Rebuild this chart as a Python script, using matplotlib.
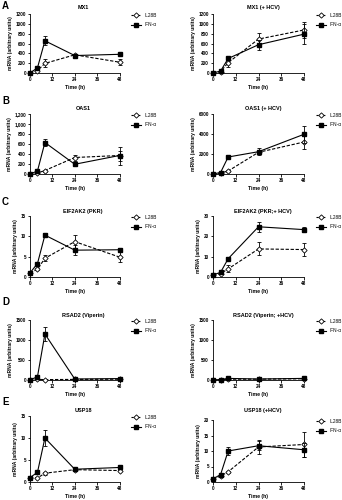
import matplotlib
matplotlib.use("Agg")
import matplotlib.pyplot as plt
from matplotlib.lines import Line2D
from matplotlib.ticker import FuncFormatter

plt.rcParams['font.family'] = ['Liberation Sans', 'DejaVu Sans']

time = [0, 4, 8, 24, 48]
x_ticks = [0, 12, 24, 36, 48]
series_labels = ["IL28B", "IFN-\u03b1"]

titles = ["MX1", "MX1 (+ HCV)", "OAS1", "OAS1 (+ HCV)",
          "EIF2AK2 (PKR)", "EIF2AK2 (PKR;+ HCV)",
          "RSAD2 (Viperin)", "RSAD2 (Viperin; +HCV)",
          "USP18", "USP18 (+HCV)"]
panel_letters = ["A", "B", "C", "D", "E"]

# IL28B values / errors
il28b = [
    [0, 50, 195, 370, 220],
    [0, 30, 210, 690, 875],
    [0, 20, 70, 330, 370],
    [0, 100, 300, 2170, 3200],
    [1, 1.9, 4.6, 8.7, 4.9],
    [1, 1.7, 4.0, 13.8, 13.5],
    [5, 15, 10, 15, 20],
    [5, 10, 20, 20, 30],
    [1, 0.9, 2.0, 2.8, 2.6],
    [1, 1.9, 3.3, 11.3, 12.1],
]
il28b_err = [
    [0, 15, 80, 20, 60],
    [0, 10, 90, 120, 170],
    [0, 10, 20, 60, 100],
    [0, 30, 80, 200, 650],
    [0, 0.3, 0.7, 1.6, 1.2],
    [0, 0.3, 1.7, 3.2, 3.2],
    [0, 5, 5, 5, 5],
    [0, 5, 5, 5, 5],
    [0, 0.1, 0.3, 0.2, 0.2],
    [0, 0.3, 0.3, 2.2, 4.0],
]
# IFN-alpha values / errors
ifn = [
    [0, 105, 655, 355, 380],
    [0, 40, 295, 575, 790],
    [0, 60, 630, 195, 370],
    [0, 150, 1700, 2230, 3970],
    [1, 3.3, 10.3, 6.6, 6.7],
    [1, 2.3, 9.0, 24.7, 23.3],
    [5, 80, 1150, 25, 35],
    [5, 10, 40, 25, 40],
    [1, 2.2, 10.0, 2.9, 3.3],
    [1, 2.4, 10.0, 11.7, 10.4],
]
ifn_err = [
    [0, 20, 90, 20, 15],
    [0, 10, 30, 100, 200],
    [0, 15, 70, 20, 180],
    [0, 40, 100, 330, 850],
    [0.1, 0.2, 0.4, 1.2, 0.4],
    [0.1, 0.5, 1.0, 2.4, 1.3],
    [0, 40, 180, 10, 10],
    [0, 5, 10, 5, 5],
    [0.1, 0.2, 1.8, 0.3, 0.3],
    [0.1, 0.5, 1.3, 1.4, 2.3],
]
y_max = [1200, 1200, 1200, 6000, 15, 30, 1500, 1500, 15, 20]
y_step = [200, 200, 200, 2000, 5, 10, 500, 500, 5, 5]
comma_fmt = [False, False, True, False, False, False, False, False, False, False]

W, H = 342, 500
fig = plt.figure(figsize=(W / 100, H / 100), dpi=100)

col_x = [(30, 119.5), (213, 304)]
row_tb = [[(14, 73), (14, 73)],
          [(114, 174), (114, 174)],
          [(216, 277), (216, 277)],
          [(320, 380), (320, 380)],
          [(416, 482), (420, 482)]]
title_y = [5, 106, 209, 313, 408]
title_x = [83, 263]
letter_y = [1, 96, 197, 297, 397]

bold = dict(fontweight='bold')

for i in range(10):
    r, c = divmod(i, 2)
    x0, x1 = col_x[c]
    top, bot = row_tb[r][c]
    ax = fig.add_axes([x0 / W, 1 - bot / H, (x1 - x0) / W, (bot - top) / H])
    ax.errorbar(time, il28b[i], yerr=il28b_err[i], color='black', lw=0.8,
                ls=(0, (3, 1.5)), marker='D', ms=2.7, mfc='white', mec='black',
                mew=0.6, capsize=1.4, elinewidth=0.6, capthick=0.6,
                clip_on=False, zorder=3, label=series_labels[0])
    ax.errorbar(time, ifn[i], yerr=ifn_err[i], color='black', lw=0.8,
                ls='-', marker='s', ms=2.7, mfc='black', mec='black',
                capsize=1.4, elinewidth=0.6, capthick=0.6,
                clip_on=False, zorder=4, label=series_labels[1])
    ax.set_xlim(0, 48)
    ax.set_ylim(0, y_max[i])
    ax.set_xticks(x_ticks)
    ax.set_yticks(list(range(0, y_max[i] + 1, y_step[i])))
    if comma_fmt[i]:
        ax.yaxis.set_major_formatter(FuncFormatter(lambda v, p: f"{int(v):,}"))
    for s in ['top', 'right']:
        ax.spines[s].set_visible(False)
    for s in ['left', 'bottom']:
        ax.spines[s].set_linewidth(0.6)
    ax.tick_params(axis='both', length=1.8, width=0.6, pad=1, labelsize=3.3)
    for lab in ax.get_xticklabels() + ax.get_yticklabels():
        lab.set_fontweight('bold')
    ax.set_xlabel("Time (h)", fontsize=3.7, labelpad=2, **bold)
    ax.set_ylabel("mRNA (arbitrary units)", fontsize=3.6, labelpad=2, **bold)
    fig.text(title_x[c] / W, 1 - title_y[r] / H, titles[i], fontsize=4,
             ha='center', va='top', **bold)
    handles = [
        Line2D([], [], color='black', lw=0.8, ls=(0, (2, 1)), marker='D', ms=2.7,
               mfc='white', mec='black', mew=0.6),
        Line2D([], [], color='black', lw=0.8, ls='-', marker='s', ms=2.7,
               mfc='black', mec='black'),
    ]
    lx = 131 if c == 0 else 316
    ax.legend(handles, series_labels, loc='upper left',
              bbox_to_anchor=(lx / W, 1 - (top - 1) / H),
              bbox_transform=fig.transFigure, frameon=False, fontsize=3.4,
              handlelength=2.2, handletextpad=0.6, labelspacing=0.9,
              borderpad=0, borderaxespad=0)

for r in range(5):
    fig.text(2 / W, 1 - letter_y[r] / H, panel_letters[r], fontsize=7,
             ha='left', va='top', **bold)

fig.savefig("out.png", dpi=100)
